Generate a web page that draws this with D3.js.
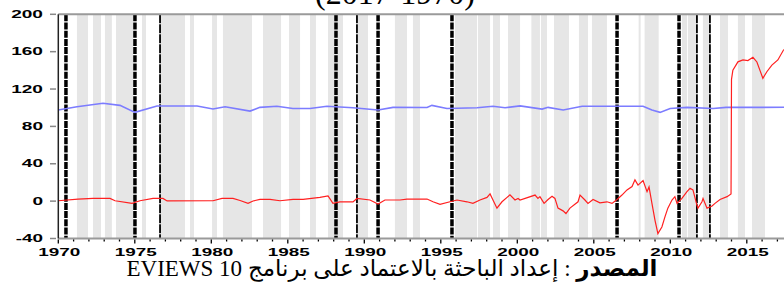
<!DOCTYPE html>
<meta charset="utf-8">

<head>
  <title>series-breaks</title>
</head>

<style>
  body { margin: 0; background: #fff; }
  svg { display: block; }
</style>

<body>
  <svg width="784" height="304"></svg>

  <script src="https://cdnjs.cloudflare.com/ajax/libs/d3/7.8.5/d3.min.js"></script>

  <script>
    var titleText = '(2017-1970)';
    var sourceLabel = 'المصدر';
    var sourceText = ' : إعداد الباحثة بالاعتماد على برنامج EVIEWS 10';

    var yTicks = [-40, 0, 40, 80, 120, 160, 200];
    var xTicks = [1970, 1975, 1980, 1985, 1990, 1995, 2000, 2005, 2010, 2015];

    // shaded periods (start, end)
    var shadedStart = [1971.22, 1972.27, 1973.05, 1973.77, 1975.47, 1976.71, 1978.61, 1980.05, 1980.76,
      1983.38, 1985.08, 1986.45, 1987.63, 1989.59, 1992.00, 1993.18, 1995.93, 1997.43, 1998.41, 1999.39,
      2000.92, 2001.55, 2002.40, 2004.03, 2004.88, 2007.93, 2008.32, 2010.76, 2011.15, 2012.13, 2013.25,
      2014.42, 2015.34];
    var shadedEnd = [1971.94, 1972.79, 1973.50, 1974.88, 1975.73, 1978.28, 1978.87, 1980.37, 1982.66,
      1984.56, 1985.80, 1986.84, 1988.61, 1990.24, 1992.79, 1993.64, 1997.37, 1998.22, 1998.87, 2000.18,
      2001.48, 2001.94, 2003.38, 2004.62, 2005.86, 2008.06, 2009.24, 2011.09, 2011.68, 2012.52, 2013.77,
      2014.88, 2016.19];

    // break dates
    var heavyBreaks = [1970.50, 1975.01, 1988.15, 1990.90, 1995.73, 2006.52, 2010.57];
    var lightBreaks = [1976.65, 1989.52, 2011.74, 2012.59];

    var blueYears = [1970.00, 1971.22, 1972.92, 1974.03, 1975.01, 1976.45, 1979.07, 1980.11, 1980.90,
      1982.53, 1983.18, 1984.29, 1985.33, 1986.45, 1987.56, 1989.26, 1990.90, 1991.88, 1994.10, 1994.42,
      1995.40, 1997.37, 1998.41, 1999.20, 2000.18, 2001.62, 2002.01, 2003.00, 2004.24, 2008.22, 2008.80,
      2009.33, 2009.99, 2011.10, 2012.80, 2013.65, 2015.87, 2017.44];
    var blueValues = [97.5, 101.0, 104.7, 102.5, 95.0, 101.8, 101.8, 98.6, 101.0,
      96.4, 100.4, 101.5, 99.2, 99.2, 101.5, 100.0, 97.5, 100.4, 100.2, 102.5,
      99.2, 100.0, 101.5, 100.0, 102.0, 98.5, 100.4, 97.5, 101.5, 101.5, 97.5,
      95.0, 99.2, 100.4, 99.2, 100.4, 100.4, 100.5];

    var redYears = [1970.00, 1971.29, 1972.27, 1973.38, 1973.71, 1974.82, 1975.34, 1976.19, 1976.84,
      1977.11, 1980.11, 1980.70, 1981.42, 1981.88, 1982.40, 1982.73, 1983.18, 1983.84, 1984.49, 1985.34,
      1986.00, 1987.10, 1987.63, 1987.95, 1988.41, 1989.26, 1989.52, 1990.37, 1990.90, 1991.35, 1992.33,
      1992.79, 1994.10, 1994.49, 1994.95, 1995.60, 1996.06, 1996.71, 1997.10, 1997.56, 1998.02, 1998.22,
      1998.41, 1998.67, 1999.00, 1999.33, 1999.52, 1999.85, 2000.05, 2000.18, 2001.16, 2001.35, 2001.48,
      2001.75, 2002.01, 2002.27, 2002.46, 2002.66, 2002.99, 2003.18, 2003.44, 2003.97, 2004.10, 2004.42,
      2004.62, 2004.95, 2005.40, 2005.86, 2006.19, 2006.52, 2006.84, 2007.17, 2007.50, 2007.69, 2007.89,
      2008.22, 2008.48, 2008.61, 2008.80, 2009.00, 2009.19, 2009.45, 2009.65, 2009.84, 2010.11, 2010.30,
      2010.44, 2010.76, 2011.09, 2011.29, 2011.48, 2011.74, 2011.81, 2012.07, 2012.14, 2012.40, 2012.73,
      2012.92, 2013.25, 2013.71, 2013.97, 2014.00, 2014.09, 2014.42, 2014.75, 2015.07, 2015.40, 2015.66,
      2015.86, 2016.05, 2016.31, 2016.64, 2017.03, 2017.42];
    var redValues = [0.4, 2.2, 2.9, 2.9, 0.4, -2.4, 0.4, 2.9, 2.9,
      0.2, 0.4, 2.9, 2.9, 0.7, -2.4, 0.2, 1.8, 1.8, 0.4, 1.8,
      1.8, 4.0, 5.7, -2.4, -0.8, -0.8, 2.9, 1.2, -3.1, 1.2, 1.2,
      2.2, 2.2, -0.7, -3.5, -0.7, 1.2, -0.7, -2.4, 1.2, 4.0, 7.7,
      1.2, -7.5, -0.7, 4.0, 6.7, 1.2, 2.9, 1.2, 6.5, 2.9, 4.8,
      -2.4, 1.8, 5.2, 2.9, -7.5, -10.4, -13.3, -7.5, -0.7, 6.5, 1.2,
      -2.4, 1.8, -1.8, -0.7, -2.4, 1.8, 6.5, 12.0, 15.6, 22.8, 17.1,
      22.1, 10.1, 15.2, -2.4, -20.5, -34.8, -27.7, -16.8, -7.5, 1.2, 4.8,
      -2.4, 2.9, 10.1, 13.7, 12.0, -4.2, -7.5, -0.7, 2.9, -7.5, -5.2,
      -2.4, 1.8, 4.8, 7.7, 130.3, 140.2, 149.1, 151.1, 150.5, 154.0, 149.0,
      140.0, 131.5, 138.5, 145.6, 151.1, 162.4];

    var plotLeft = 58.3, plotTop = 14.3, plotBottom = 238.5;

    var x = d3.scaleLinear().domain([1970, 2018]).range([plotLeft, plotLeft + 48 * 15.3]);
    var y = d3.scaleLinear().domain([-40, 200]).range([plotBottom, plotTop]);

    var svg = d3.select('svg');

    // shaded periods
    svg.append('g')
      .selectAll('rect')
      .data(d3.zip(shadedStart, shadedEnd))
      .enter()
      .append('rect')
      .attr('x', function(d) { return x(d[0]); })
      .attr('width', function(d) { return x(d[1]) - x(d[0]); })
      .attr('y', plotTop)
      .attr('height', plotBottom - plotTop)
      .style('fill', '#e6e6e6');

    // break lines
    svg.append('g')
      .selectAll('line')
      .data(heavyBreaks)
      .enter()
      .append('line')
      .attr('x1', function(d) { return x(d); })
      .attr('x2', function(d) { return x(d); })
      .attr('y1', plotTop)
      .attr('y2', plotBottom)
      .style('stroke', '#000')
      .style('stroke-width', 3.5)
      .style('stroke-dasharray', '7,1.2');

    svg.append('g')
      .selectAll('line')
      .data(lightBreaks)
      .enter()
      .append('line')
      .attr('x1', function(d) { return x(d); })
      .attr('x2', function(d) { return x(d); })
      .attr('y1', plotTop)
      .attr('y2', plotBottom)
      .style('stroke', '#000')
      .style('stroke-width', 1.8)
      .style('stroke-dasharray', '9,1');

    // series
    var line = d3.line()
      .x(function(d) { return x(d[0]); })
      .y(function(d) { return y(d[1]); });

    svg.append('path')
      .datum(d3.zip(blueYears, blueValues))
      .attr('d', line)
      .style('fill', 'none')
      .style('stroke', '#7c7cff')
      .style('stroke-width', 1.6);

    svg.append('path')
      .datum(d3.zip(redYears, redValues))
      .attr('d', line)
      .style('fill', 'none')
      .style('stroke', '#ff2020')
      .style('stroke-width', 1.2);

    // frame
    svg.append('line')
      .attr('x1', plotLeft).attr('x2', 784).attr('y1', plotTop).attr('y2', plotTop)
      .style('stroke', '#9a9a9a').style('stroke-width', 2);
    svg.append('line')
      .attr('x1', plotLeft).attr('x2', 784).attr('y1', plotBottom).attr('y2', plotBottom)
      .style('stroke', '#9a9a9a').style('stroke-width', 2);
    svg.append('line')
      .attr('x1', plotLeft).attr('x2', plotLeft).attr('y1', plotTop).attr('y2', plotBottom)
      .style('stroke', '#222').style('stroke-width', 1.5);

    // y axis
    var yAxis = svg.append('g');
    yAxis.selectAll('line')
      .data(yTicks)
      .enter()
      .append('line')
      .attr('x1', 50).attr('x2', 56)
      .attr('y1', function(d) { return y(d); })
      .attr('y2', function(d) { return y(d); })
      .style('stroke', '#888').style('stroke-width', 1.5);
    yAxis.selectAll('text')
      .data(yTicks)
      .enter()
      .append('text')
      .attr('x', 43)
      .attr('y', function(d) { return y(d) + 3.6; })
      .attr('text-anchor', 'end')
      .attr('textLength', function(d) {
        var s = String(d);
        return s.replace('-', '').length * 10.6 + (d < 0 ? 6 : 0);
      })
      .attr('lengthAdjust', 'spacingAndGlyphs')
      .style('font-family', 'Liberation Sans, Arial, sans-serif')
      .style('font-weight', 'bold')
      .style('font-size', '10px')
      .text(function(d) { return d; });

    // x axis
    var xAxis = svg.append('g');
    xAxis.selectAll('line')
      .data(d3.range(1970, 2018))
      .enter()
      .append('line')
      .attr('x1', function(d) { return x(d); })
      .attr('x2', function(d) { return x(d); })
      .attr('y1', plotBottom + 1)
      .attr('y2', function(d) { return d % 5 === 0 ? plotBottom + 5 : plotBottom + 3; })
      .style('stroke', '#000').style('stroke-width', 1.3);
    xAxis.selectAll('text')
      .data(xTicks)
      .enter()
      .append('text')
      .attr('x', function(d) { return x(d) + 1; })
      .attr('y', 255.5)
      .attr('text-anchor', 'middle')
      .attr('textLength', 42)
      .attr('lengthAdjust', 'spacingAndGlyphs')
      .style('font-family', 'Liberation Sans, Arial, sans-serif')
      .style('font-weight', 'bold')
      .style('font-size', '10px')
      .text(function(d) { return d; });

    // title (cut at top edge, as in the source image)
    svg.append('text')
      .attr('x', 395)
      .attr('y', 4)
      .attr('text-anchor', 'middle')
      .style('font-family', 'Liberation Serif, Times New Roman, serif')
      .style('font-size', '32px')
      .text(titleText);

    // source note
    var note = svg.append('text')
      .attr('x', 392)
      .attr('y', 276)
      .attr('direction', 'rtl')
      .attr('text-anchor', 'middle')
      .style('font-family', 'Liberation Serif, Times New Roman, DejaVu Sans, serif')
      .style('font-size', '23px');
    note.append('tspan').style('font-weight', 'bold').text(sourceLabel);
    note.append('tspan').text(sourceText);
  </script>
</body>

</html>
